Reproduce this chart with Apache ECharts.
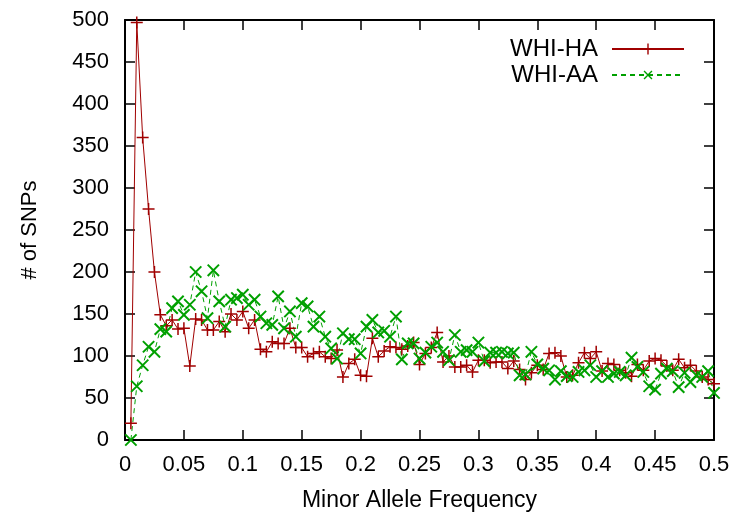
<!DOCTYPE html>
<html>
<head>
<meta charset="utf-8">
<script src="https://cdn.jsdelivr.net/npm/echarts@6/dist/echarts.min.js"></script>
<style>
html,body{margin:0;padding:0;background:#fff;}
#c{width:735px;height:512px;}
</style>
</head>
<body>
<div id="c"></div>
<script>
// Minor allele frequency bins
var freq = [0.005,0.01,0.015,0.02,0.025,0.03,0.035,0.04,0.045,0.05,
  0.055,0.06,0.065,0.07,0.075,0.08,0.085,0.09,0.095,0.1,
  0.105,0.11,0.115,0.12,0.125,0.13,0.135,0.14,0.145,0.15,
  0.155,0.16,0.165,0.17,0.175,0.18,0.185,0.19,0.195,0.2,
  0.205,0.21,0.215,0.22,0.225,0.23,0.235,0.24,0.245,0.25,
  0.255,0.26,0.265,0.27,0.275,0.28,0.285,0.29,0.295,0.3,
  0.305,0.31,0.315,0.32,0.325,0.33,0.335,0.34,0.345,0.35,
  0.355,0.36,0.365,0.37,0.375,0.38,0.385,0.39,0.395,0.4,
  0.405,0.41,0.415,0.42,0.425,0.43,0.435,0.44,0.445,0.45,
  0.455,0.46,0.465,0.47,0.475,0.48,0.485,0.49,0.495,0.5];

// # of SNPs, WHI-HA
var whiHA = [20,497,360,275,200,149,136,143,132,133,
  88,144,143,131,131,141,129,150,143,153,
  133,143,108,105,117,115,115,133,110,110,
  99,103,105,99,97,107,75,91,96,77,
  76,121,99,106,111,110,108,112,116,90,
  103,110,128,93,100,87,87,89,81,95,
  95,92,93,93,85,94,84,72,80,89,
  84,103,104,100,75,77,92,104,97,105,
  82,91,90,83,80,76,90,83,94,97,
  95,88,83,96,86,89,82,75,72,67];

// # of SNPs, WHI-AA
var whiAA = [0,64,89,111,105,132,129,157,165,149,
  161,200,177,145,202,165,135,167,169,173,
  161,167,147,139,137,171,133,153,123,163,
  159,135,147,123,109,97,127,120,120,103,
  135,143,128,130,123,147,96,115,115,97,
  104,111,116,105,95,125,105,107,105,116,
  94,104,104,105,103,104,77,78,105,90,
  85,83,72,82,76,75,81,83,89,75,
  82,75,79,81,77,98,87,81,64,60,
  79,85,82,63,80,69,77,75,82,56];

var seriesNames = ['WHI-HA', 'WHI-AA'];
var xTitle = 'Minor Allele Frequency';
var yTitle = '# of SNPs';

function pairs(xs, ys) {
  return xs.map(function (x, i) { return [x, ys[i]]; });
}

var FONT = 'Liberation Sans';
var RED = '#a00000';
var GREEN = '#00a000';
var PLUS = 'path://M0,7h16v2h-16z M7,0h2v16h-2z';

function xAx(pos, showLabel) {
  return {
    type: 'value', position: pos, min: 0, max: 0.5, interval: 0.05,
    axisLine: { show: true, onZero: false, lineStyle: { color: '#000', width: 2 } },
    axisTick: { show: true, inside: true, length: 10, lineStyle: { color: '#000', width: 1.5 } },
    axisLabel: { show: showLabel, color: '#000', fontSize: 22, fontFamily: FONT, margin: 14 },
    splitLine: { show: false },
    name: showLabel ? xTitle : '',
    nameLocation: 'middle', nameGap: 49,
    nameTextStyle: { color: '#000', fontSize: 23, fontFamily: FONT }
  };
}
function yAx(pos, showLabel) {
  return {
    type: 'value', position: pos, min: 0, max: 500, interval: 50,
    axisLine: { show: true, onZero: false, lineStyle: { color: '#000', width: 2 } },
    axisTick: { show: true, inside: true, length: 10, lineStyle: { color: '#000', width: 1.5 } },
    axisLabel: { show: showLabel, color: '#000', fontSize: 22, fontFamily: FONT, margin: 16 },
    splitLine: { show: false },
    name: showLabel ? yTitle : '',
    nameLocation: 'middle', nameGap: 84,
    nameTextStyle: { color: '#000', fontSize: 22, fontFamily: FONT }
  };
}

var chart = echarts.init(document.getElementById('c'), null, { renderer: 'canvas' });
chart.setOption({
  animation: false,
  backgroundColor: '#fff',
  grid: { left: 125, right: 21, top: 20, bottom: 72, containLabel: false, outerBoundsMode: 'none' },
  xAxis: [xAx('bottom', true), xAx('top', false)],
  yAxis: [yAx('left', true), yAx('right', false)],
  legend: {
    orient: 'vertical', right: 45, top: 32, align: 'right',
    itemWidth: 72, itemHeight: 14, itemGap: 2,
    textStyle: { color: '#000', fontSize: 24, fontFamily: FONT, lineHeight: 23, padding: [0, 9, 0, 0] },
    data: seriesNames
  },
  series: [
    {
      name: seriesNames[0], type: 'line', xAxisIndex: 0, yAxisIndex: 0,
      data: pairs(freq, whiHA),
      symbol: PLUS, symbolSize: 12,
      itemStyle: { color: RED },
      lineStyle: { color: RED, width: 1 }
    },
    {
      name: seriesNames[1], type: 'line', xAxisIndex: 0, yAxisIndex: 0,
      data: pairs(freq, whiAA),
      symbol: PLUS, symbolSize: 16, symbolRotate: 45,
      itemStyle: { color: GREEN },
      lineStyle: { color: GREEN, width: 1, type: [5, 4] }
    }
  ]
});
</script>
</body>
</html>
